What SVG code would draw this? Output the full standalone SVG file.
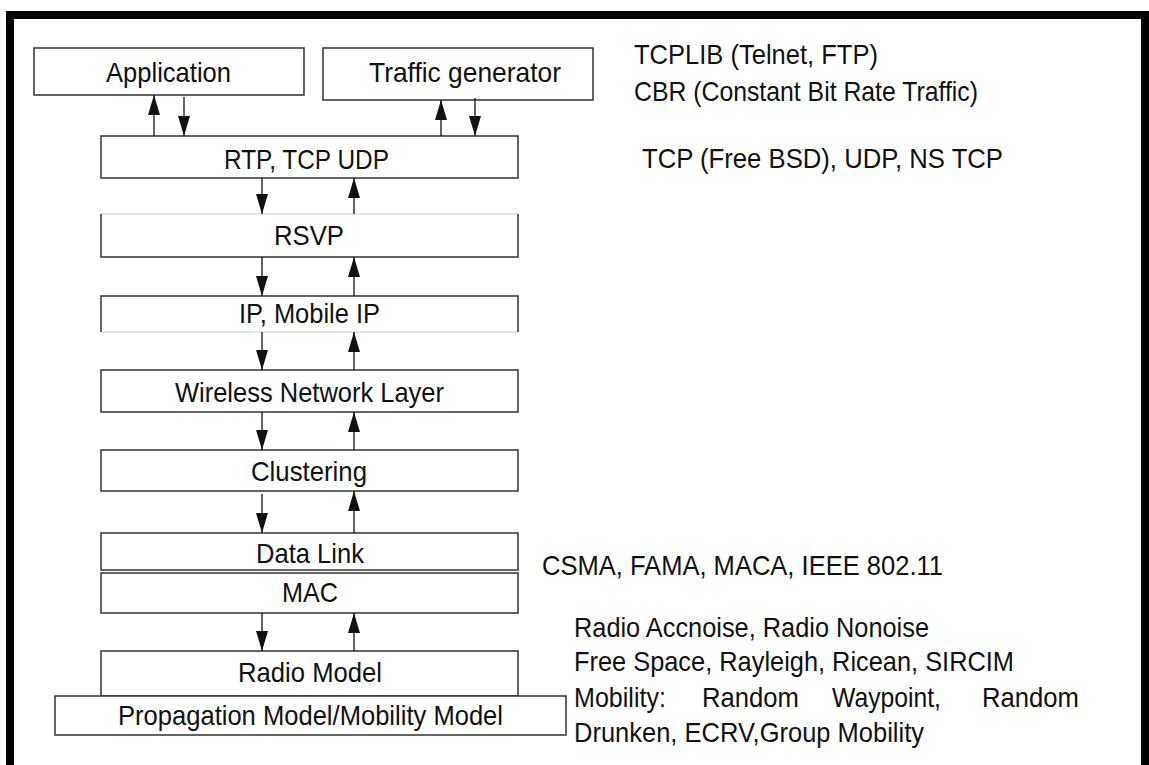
<svg xmlns="http://www.w3.org/2000/svg" width="1149" height="765" viewBox="0 0 1149 765">
<style>
  .box { fill: #fff; stroke: #333; stroke-width: 1.5; }
  .edge { fill: none; stroke: #333; stroke-width: 1.5; }
  .faint { fill: none; stroke: #ddd; stroke-width: 1.5; }
  .lbl { font-family: "Liberation Sans", Arial, sans-serif; font-size: 28px; fill: #111; }
  .note { font-family: "Liberation Sans", Arial, sans-serif; font-size: 28px; fill: #111; }
  .conn { stroke: #111; stroke-width: 1.3; fill: none; }
</style>
<defs>
  <marker id="ah" viewBox="0 0 20 12" refX="20" refY="6" markerWidth="20" markerHeight="12" markerUnits="userSpaceOnUse" orient="auto">
    <path d="M0,0 L20,6 L0,12 Z" fill="#111"/>
  </marker>
</defs>
<rect width="1149" height="765" fill="#fff"/>
<!-- frame -->
<path d="M10,770 V15 H1145 V770" fill="none" stroke="#000" stroke-width="8"/>

<g id="application">
  <rect class="box" x="34" y="48" width="270" height="47"/>
  <text class="lbl" x="106" y="82" textLength="125" lengthAdjust="spacingAndGlyphs">Application</text>
</g>
<g id="traffic-generator">
  <rect class="box" x="323" y="48" width="270" height="52"/>
  <text class="lbl" x="369" y="82" textLength="192" lengthAdjust="spacingAndGlyphs">Traffic generator</text>
</g>
<g id="rtp-tcp-udp">
  <rect class="box" x="101" y="136" width="417" height="42"/>
  <text class="lbl" x="224" y="169" textLength="165" lengthAdjust="spacingAndGlyphs">RTP, TCP UDP</text>
</g>
<g id="rsvp">
  <rect x="101" y="214" width="417" height="43" fill="#fff"/>
  <path class="faint" d="M101,214 H518"/>
  <path class="edge" d="M101,214 V257 H518 V214"/>
  <text class="lbl" x="274" y="245" textLength="70" lengthAdjust="spacingAndGlyphs">RSVP</text>
</g>
<g id="ip-mobile-ip">
  <rect x="101" y="296" width="417" height="36" fill="#fff"/>
  <path class="faint" d="M101,332 H518"/>
  <path class="edge" d="M101,332 V296 H518 V332"/>
  <text class="lbl" x="239" y="323" textLength="141" lengthAdjust="spacingAndGlyphs">IP, Mobile IP</text>
</g>
<g id="wireless-network-layer">
  <rect class="box" x="101" y="370" width="417" height="42"/>
  <text class="lbl" x="175" y="402" textLength="269" lengthAdjust="spacingAndGlyphs">Wireless Network Layer</text>
</g>
<g id="clustering">
  <rect class="box" x="101" y="450" width="417" height="41"/>
  <text class="lbl" x="251" y="481" textLength="116" lengthAdjust="spacingAndGlyphs">Clustering</text>
</g>
<g id="data-link">
  <rect class="box" x="101" y="533" width="417" height="37"/>
  <text class="lbl" x="256" y="563" textLength="108" lengthAdjust="spacingAndGlyphs">Data Link</text>
</g>
<g id="mac">
  <rect class="box" x="101" y="573" width="417" height="40"/>
  <text class="lbl" x="282" y="602" textLength="56" lengthAdjust="spacingAndGlyphs">MAC</text>
</g>
<g id="radio-model">
  <rect class="box" x="101" y="651" width="417" height="45"/>
  <text class="lbl" x="238" y="682" textLength="144" lengthAdjust="spacingAndGlyphs">Radio Model</text>
</g>
<g id="propagation-model">
  <rect class="box" x="55" y="696" width="511" height="39"/>
  <text class="lbl" x="118" y="725" textLength="385" lengthAdjust="spacingAndGlyphs">Propagation Model/Mobility Model</text>
</g>

<g id="connectors">
  <path class="conn" marker-end="url(#ah)" d="M154,136 V95"/>
  <path class="conn" marker-end="url(#ah)" d="M184,97 V136"/>
  <path class="conn" marker-end="url(#ah)" d="M441,136 V100"/>
  <path class="conn" marker-end="url(#ah)" d="M475,98 V136"/>

  <path class="conn" marker-end="url(#ah)" d="M262,178 V214"/>
  <path class="conn" marker-end="url(#ah)" d="M354,214 V178"/>
  <path class="conn" marker-end="url(#ah)" d="M262,257 V296"/>
  <path class="conn" marker-end="url(#ah)" d="M354,296 V257"/>
  <path class="conn" marker-end="url(#ah)" d="M262,332 V370"/>
  <path class="conn" marker-end="url(#ah)" d="M354,370 V332"/>
  <path class="conn" marker-end="url(#ah)" d="M262,412 V450"/>
  <path class="conn" marker-end="url(#ah)" d="M354,450 V412"/>
  <path class="conn" marker-end="url(#ah)" d="M262,494 V533"/>
  <path class="conn" marker-end="url(#ah)" d="M354,533 V491"/>
  <path class="conn" marker-end="url(#ah)" d="M262,613 V651"/>
  <path class="conn" marker-end="url(#ah)" d="M354,651 V613"/>
</g>

<g id="notes">
  <text class="note" x="634" y="64" textLength="244" lengthAdjust="spacingAndGlyphs">TCPLIB (Telnet, FTP)</text>
  <text class="note" x="634" y="101" textLength="344" lengthAdjust="spacingAndGlyphs">CBR (Constant Bit Rate Traffic)</text>
  <text class="note" x="642" y="168" textLength="361" lengthAdjust="spacingAndGlyphs">TCP (Free BSD), UDP, NS TCP</text>
  <text class="note" x="542" y="575" textLength="401" lengthAdjust="spacingAndGlyphs">CSMA, FAMA, MACA, IEEE 802.11</text>
  <text class="note" x="574" y="637" textLength="355" lengthAdjust="spacingAndGlyphs">Radio Accnoise, Radio Nonoise</text>
  <text class="note" x="574" y="671" textLength="440" lengthAdjust="spacingAndGlyphs">Free Space, Rayleigh, Ricean, SIRCIM</text>
  <text class="note" x="574" y="707" textLength="92" lengthAdjust="spacingAndGlyphs">Mobility:</text>
  <text class="note" x="702" y="707" textLength="97" lengthAdjust="spacingAndGlyphs">Random</text>
  <text class="note" x="832" y="707" textLength="109" lengthAdjust="spacingAndGlyphs">Waypoint,</text>
  <text class="note" x="982" y="707" textLength="97" lengthAdjust="spacingAndGlyphs">Random</text>
  <text class="note" x="574" y="742" textLength="350" lengthAdjust="spacingAndGlyphs">Drunken, ECRV,Group Mobility</text>
</g>
</svg>
